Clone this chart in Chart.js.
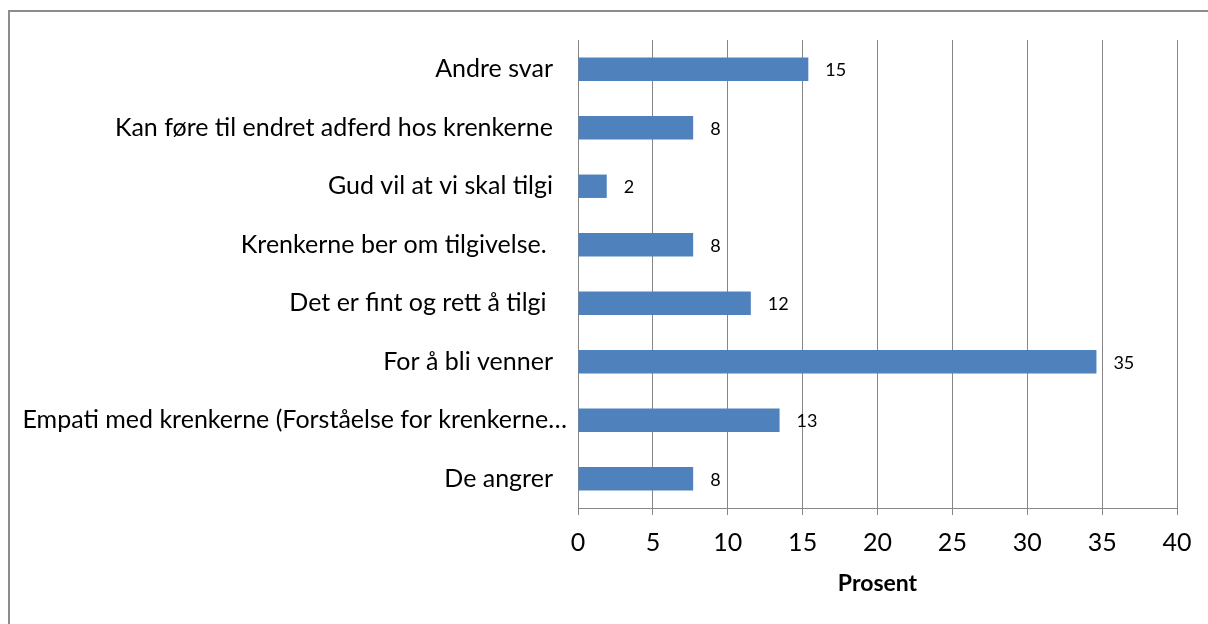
<!DOCTYPE html>
<html>
<head>
<meta charset="utf-8">
<script src="https://cdn.jsdelivr.net/npm/chart.js@4"></script>
<style>
  html, body { margin: 0; padding: 0; background: #fff; }
  .wrap { position: relative; width: 1208px; height: 624px; overflow: hidden; }
  .frame { position: absolute; left: 8px; top: 10px; right: -10px; bottom: -10px; border-top: 2px solid #8c8c8c; border-left: 2px solid #8c8c8c; }
  canvas { position: absolute; left: 0; top: 0; }
</style>
</head>
<body>
<div class="wrap">
  <div class="frame"></div>
  <canvas id="barChart" width="1208" height="624"></canvas>
</div>
<script>
const barBlue = '#4F81BD';
const gridGrey = '#868686';

const categories = [
    'Andre svar',
    'Kan føre til endret adferd hos krenkerne',
    'Gud vil at vi skal tilgi',
    'Krenkerne ber om tilgivelse. ',
    'Det er fint og rett å tilgi ',
    'For å bli venner',
    'Empati med krenkerne (Forståelse for krenkerne…',
    'De angrer'
];
const percent = [15.38, 7.69, 1.92, 7.69, 11.54, 34.62, 13.46, 7.69];
const xTicks = [0, 5, 10, 15, 20, 25, 30, 35, 40];

// value labels at the end of each bar
const barLabels = {
    id: 'barLabels',
    afterDatasetsDraw(chart) {
        const ctx = chart.ctx;
        const meta = chart.getDatasetMeta(0);
        ctx.save();
        ctx.font = '18px Lato';
        ctx.fillStyle = '#000';
        ctx.textAlign = 'left';
        ctx.textBaseline = 'middle';
        meta.data.forEach((bar, i) => {
            ctx.fillText(String(Math.round(percent[i])), bar.x + 17, bar.y + 1);
        });
        ctx.restore();
    }
};

// the truncated label sits a bit closer to the axis, like in Excel
const nudgeLongLabel = {
    id: 'nudgeLongLabel',
    beforeDraw(chart) {
        const items = chart.scales.y.getLabelItems();
        items.forEach(item => {
            if (String(item.label).endsWith('…') && !item._nudged) {
                item.options.translation[0] += 14;
                item._nudged = true;
            }
        });
    }
};

const ctxBar = document.getElementById('barChart').getContext('2d');
new Chart(ctxBar, {
    type: 'bar',
    data: {
        labels: categories,
        datasets: [{
            data: percent,
            backgroundColor: barBlue,
            borderWidth: 0,
            categoryPercentage: 1,
            barPercentage: 0.4
        }]
    },
    options: {
        indexAxis: 'y',
        responsive: false,
        animation: false,
        layout: { padding: { top: 40, right: 31, left: 0, bottom: 0 } },
        plugins: { legend: { display: false }, tooltip: { enabled: false } },
        scales: {
            x: {
                min: 0, max: 40,
                afterBuildTicks: axis => { axis.ticks = xTicks.map(v => ({ value: v })); },
                afterFit: axis => { axis.height = 116; },
                grid: { color: gridGrey, lineWidth: 1, tickLength: 7, drawTicks: true },
                border: { color: gridGrey, width: 1 },
                ticks: { color: '#000', padding: 13, font: { family: 'Lato', size: 25 } },
                title: {
                    display: true, text: 'Prosent', color: '#000',
                    font: { family: 'Lato', size: 23, weight: 'bold' },
                    padding: { top: 0, bottom: 27 }
                }
            },
            y: {
                afterFit: axis => { axis.width = 578; },
                grid: { display: false, drawTicks: false },
                border: { color: gridGrey, width: 1 },
                ticks: { color: '#000', padding: 25, font: { family: 'Lato', size: 25 } }
            }
        }
    },
    plugins: [barLabels, nudgeLongLabel]
});
</script>
</body>
</html>
